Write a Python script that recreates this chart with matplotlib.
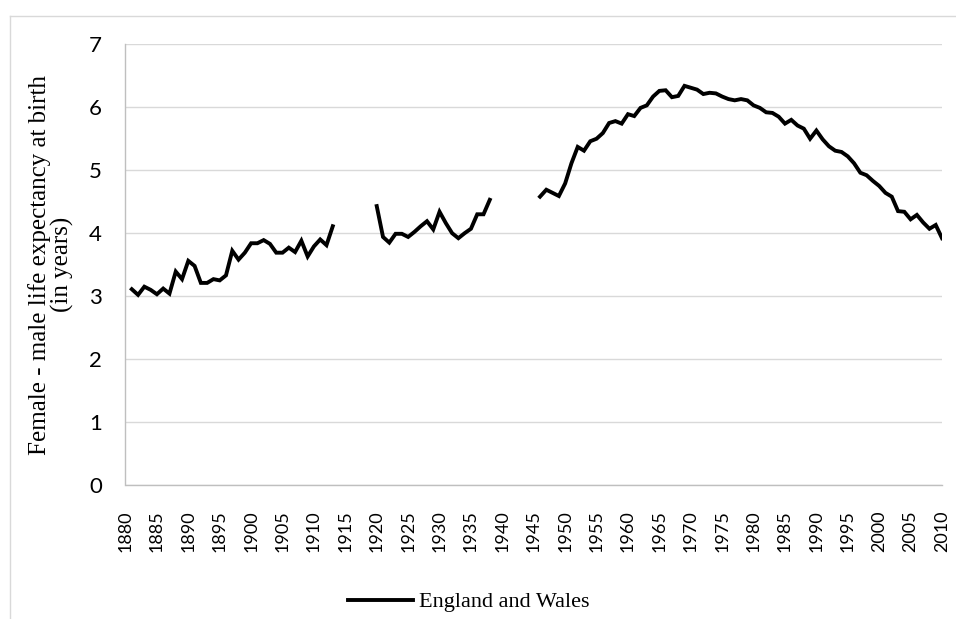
import numpy as np
import matplotlib
matplotlib.use("Agg")
import matplotlib.pyplot as plt
from matplotlib.lines import Line2D

# ---- data ----
seg1_start = 1881
seg1_values = [3.11, 3.02, 3.15, 3.10, 3.03, 3.12, 3.04, 3.39, 3.27, 3.56, 3.48,
               3.21, 3.21, 3.27, 3.25, 3.33, 3.72, 3.58, 3.69, 3.84, 3.84, 3.89,
               3.83, 3.69, 3.69, 3.77, 3.70, 3.88, 3.63, 3.79, 3.90, 3.81, 4.11]
seg2_start = 1920
seg2_values = [4.43, 3.94, 3.85, 3.99, 3.99, 3.94, 4.02, 4.11, 4.19, 4.06, 4.34,
               4.16, 4.00, 3.92, 4.00, 4.07, 4.30, 4.30, 4.53]
seg3_start = 1946
seg3_values = [4.58, 4.69, 4.64, 4.59, 4.79, 5.11, 5.37, 5.31, 5.46, 5.50, 5.59,
               5.75, 5.78, 5.74, 5.89, 5.86, 5.99, 6.03, 6.17, 6.26, 6.27, 6.16,
               6.18, 6.34, 6.31, 6.28, 6.21, 6.23, 6.22, 6.17, 6.13, 6.11, 6.13,
               6.11, 6.03, 5.99, 5.92, 5.91, 5.85, 5.74, 5.80, 5.71, 5.66, 5.50,
               5.63, 5.49, 5.38, 5.31, 5.29, 5.22, 5.11, 4.96, 4.92, 4.83, 4.75,
               4.64, 4.58, 4.35, 4.34, 4.22, 4.29, 4.17, 4.07, 4.13, 3.92]
series_name = "England and Wales"
x_tick_years = list(range(1880, 2011, 5))
y_ticks = [0, 1, 2, 3, 4, 5, 6, 7]
y_label = "Female - male life expectancy at birth\n(in years)"

# build one series with gaps (NaN) for missing years
first_year, last_year = 1880, 2010
years = np.arange(first_year, last_year + 1)
values = np.full(len(years), np.nan)
for start, seg in [(seg1_start, seg1_values), (seg2_start, seg2_values), (seg3_start, seg3_values)]:
    idx = start - first_year
    values[idx:idx + len(seg)] = seg

W, H = 956, 619
fig = plt.figure(figsize=(W / 100, H / 100), dpi=100)
fig.patch.set_facecolor("white")

# chart-area border (cropped on right/bottom)
border_col = "#d9d9d9"
fig.add_artist(Line2D([10 / W, 1.0], [1 - 16 / H, 1 - 16 / H], color=border_col, lw=1.0, transform=fig.transFigure))
fig.add_artist(Line2D([10 / W, 10 / W], [1 - 16 / H, 0.0], color=border_col, lw=1.0, transform=fig.transFigure))

ax = fig.add_axes([125.5 / W, 1 - 485 / H, (942 - 125.5) / W, (485 - 44.3) / H])
ax.plot(years, values, color="black", lw=2.8, solid_joinstyle="miter", label=series_name)

ax.set_xlim(first_year, last_year)
ax.set_ylim(0, 7)
ax.set_yticks(y_ticks)
ax.set_xticks(x_tick_years)
ax.set_xticklabels([str(y) for y in x_tick_years], rotation=90, fontsize=13, family="Lato")
ax.set_yticklabels([str(v) for v in y_ticks], fontsize=16, family="Lato")
ax.tick_params(axis="both", length=0)
ax.tick_params(axis="y", pad=17)
ax.tick_params(axis="x", pad=18)

ax.grid(axis="y", color="#d9d9d9", lw=1.0)
ax.set_axisbelow(True)
for s in ["top", "right"]:
    ax.spines[s].set_visible(False)
for s in ["left", "bottom"]:
    ax.spines[s].set_color("#bfbfbf")
    ax.spines[s].set_linewidth(1.0)

fig.text(51 / W, 1 - 264.6 / H, y_label, rotation=90, ha="center", va="center",
         multialignment="center", fontsize=18, family="Liberation Serif", linespacing=1.05)

fs_leg = 16
handle_px = 413.3 - 347.7
leg = fig.legend(loc="center left", bbox_to_anchor=(347.7 / W, 1 - 602 / H),
                 frameon=False, borderpad=0, borderaxespad=0,
                 handlelength=handle_px / (fs_leg * 100 / 72), handletextpad=0.25,
                 prop={"family": "Liberation Serif", "size": fs_leg})

fig.savefig("out.png", dpi=100)
